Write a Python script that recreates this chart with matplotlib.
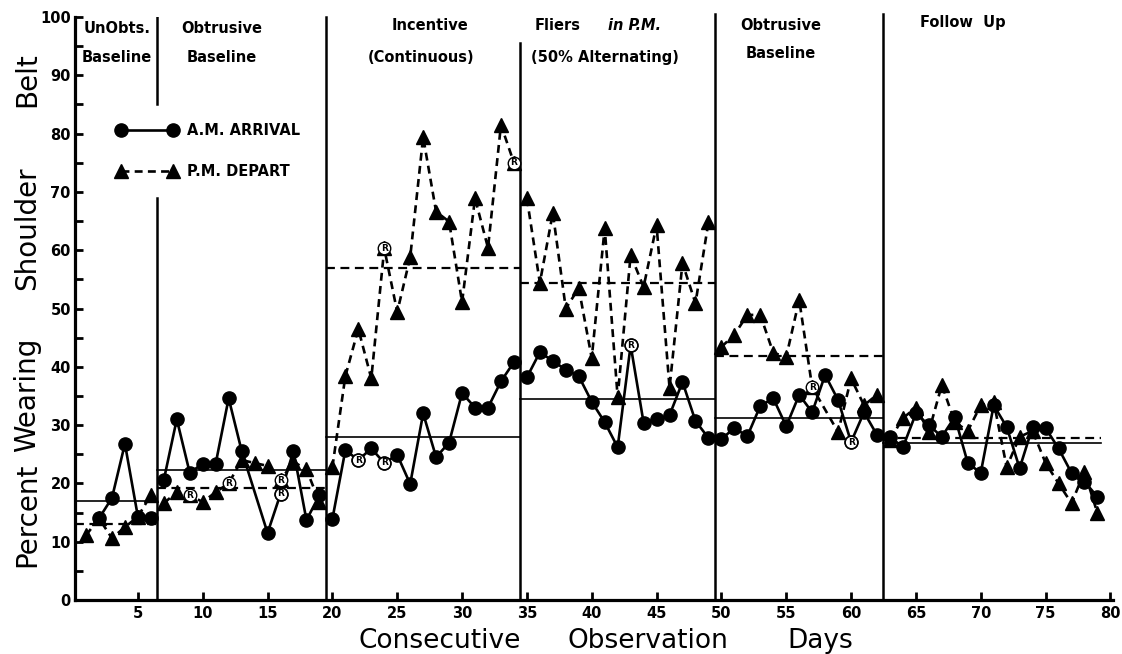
# Gráfico: uso do cinto de ombro (A.M. chegada x P.M. saída) por fase
import numpy as np
import matplotlib.pyplot as plt

# Dados (dias consecutivos de observação)
am_dias = [2, 3, 4, 5, 6,
           7, 8, 9, 10, 11, 12, 13, 15, 16, 17, 18, 19,
           20, 21, 22, 23, 24, 25, 26, 27, 28, 29, 30, 31, 32, 33, 34,
           35, 36, 37, 38, 39, 40, 41, 42, 43, 44, 45, 46, 47, 48, 49,
           50, 51, 52, 53, 54, 55, 56, 57, 58, 59, 60, 61, 62,
           63, 64, 65, 66, 67, 68, 69, 70, 71, 72, 73, 74, 75, 76, 77, 78, 79]
am_valores = [14, 17.5, 26.8, 14.3, 14,
              20.6, 31, 21.8, 23.4, 23.4, 34.6, 25.6, 11.5, 18.2, 25.6, 13.7, 18,
              13.9, 25.7, 24, 26, 23.5, 24.9, 19.9, 32, 24.5, 27, 35.5, 33, 33, 37.5, 40.8,
              38.2, 42.5, 41, 39.5, 38.4, 34, 30.5, 26.2, 43.7, 30.4, 31, 31.7, 37.4, 30.7, 27.8,
              27.6, 29.5, 28.1, 33.3, 34.6, 29.8, 35.2, 32.2, 38.6, 34.3, 27.1, 32.2, 28.3,
              28, 26.2, 32, 30, 28, 31.4, 23.5, 21.8, 33.4, 29.7, 22.6, 29.7, 29.5, 26, 21.8, 20.3, 17.7]

pm_dias = [1, 2, 3, 4, 5, 6,
           7, 8, 9, 10, 11, 12, 13, 14, 15, 16, 17, 18, 19,
           20, 21, 22, 23, 24, 25, 26, 27, 28, 29, 30, 31, 32, 33, 34,
           35, 36, 37, 38, 39, 40, 41, 42, 43, 44, 45, 46, 47, 48, 49,
           50, 51, 52, 53, 54, 55, 56, 57, 59, 60, 61, 62,
           63, 64, 65, 66, 67, 68, 69, 70, 71, 72, 73, 74, 75, 76, 77, 78, 79]
pm_valores = [11.1, 14, 10.6, 12.5, 14.3, 18,
              16.6, 18.5, 18, 16.8, 18.5, 20, 24, 23.5, 23, 20.5, 23.7, 22.4, 16.8,
              22.8, 38.4, 46.5, 38, 60.3, 49.4, 58.8, 79.4, 66.6, 64.9, 51.1, 68.9, 60.4, 81.5, 75,
              68.9, 54.4, 66.4, 50, 53.5, 41.5, 63.8, 34.8, 59.2, 53.7, 64.3, 36.4, 57.8, 50.9, 64.8,
              43.4, 45.5, 48.9, 48.9, 42.4, 41.7, 51.5, 36.5, 28.8, 38, 33.4, 35.2,
              27.5, 31.2, 33, 28.9, 36.9, 30.5, 29, 33.4, 34, 22.8, 28, 29, 23.5, 20, 16.6, 22, 14.9]

# dias marcados com "R"
am_r_dias = [16, 22, 24, 43, 60]
pm_r_dias = [9, 12, 16, 24, 34, 57]

# fases: limites e médias
fase_inicio = [0.15, 6.5, 19.5, 34.5, 49.5, 62.5]
fase_fim = [6.5, 19.5, 34.5, 49.5, 62.5, 79.3]
media_am = [17, 22.3, 28, 34.4, 31.2, 26.9]
media_pm = [13, 19.2, 57, 54.4, 41.8, 27.8]

# Linhas divisórias das fases (x, topo)
divisores = [19.5, 34.5, 49.5, 62.5]
divisores_topo = [100, 95.5, 100.5, 100.5]

fig = plt.figure(figsize=(11.22, 6.54), dpi=100)
ax = fig.add_axes([75/1122, 54/654, 1038/1122, 583/654])

am_dias = np.array(am_dias)
am_valores = np.array(am_valores)
pm_dias = np.array(pm_dias)
pm_valores = np.array(pm_valores)

# séries, sem ligar uma fase à outra
for i in range(len(fase_inicio)):
    m = (am_dias > fase_inicio[i]) & (am_dias < fase_fim[i] + 0.5)
    l_am, = ax.plot(am_dias[m], am_valores[m], color='k', lw=1.9, marker='o',
                    markersize=9.5, solid_capstyle='round', zorder=4)
    m = (pm_dias > fase_inicio[i]) & (pm_dias < fase_fim[i] + 0.5)
    l_pm, = ax.plot(pm_dias[m], pm_valores[m], color='k', lw=1.9, marker='^',
                    markersize=10, dashes=(3, 2), zorder=4)

    # médias da fase
    ax.plot([fase_inicio[i], fase_fim[i]], [media_am[i], media_am[i]], color='k', lw=1.2, zorder=3)
    ax.plot([fase_inicio[i], fase_fim[i]], [media_pm[i], media_pm[i]], color='k', lw=1.6,
            dashes=(4, 2.5), zorder=3)

# pontos "R"
for d in am_r_dias:
    v = am_valores[am_dias == d][0]
    ax.plot(d, v, 'o', markersize=9, markerfacecolor='white', markeredgecolor='k', mew=1, zorder=5)
    ax.text(d, v, 'R', fontsize=6.5, fontweight='bold', ha='center', va='center', zorder=6)
for d in pm_r_dias:
    v = pm_valores[pm_dias == d][0]
    ax.plot(d, v, 'o', markersize=9, markerfacecolor='white', markeredgecolor='k', mew=1, zorder=5)
    ax.text(d, v, 'R', fontsize=6.5, fontweight='bold', ha='center', va='center', zorder=6)

# divisórias das fases
ax.plot([6.5, 6.5], [85, 100], color='k', lw=1.8)
ax.plot([6.5, 6.5], [0, 69], color='k', lw=1.8)
for x, topo in zip(divisores, divisores_topo):
    ax.plot([x, x], [0, topo], color='k', lw=1.8, clip_on=False)

# títulos das fases
fonte = dict(fontsize=10.5, fontweight='bold', ha='center', va='center')
ax.text(3.4, 98.1, 'UnObts.', **fonte)
ax.text(3.4, 93.1, 'Baseline', **fonte)
ax.text(11.5, 98.1, 'Obtrusive', **fonte)
ax.text(11.5, 93.1, 'Baseline', **fonte)
ax.text(27.5, 98.6, 'Incentive', **fonte)
ax.text(37.4, 98.6, 'Fliers', **fonte)
ax.text(43.3, 98.6, 'in P.M.', fontsize=10.5, fontweight='bold', fontstyle='italic',
        ha='center', va='center')
ax.text(26.8, 93.1, '(Continuous)', **fonte)
ax.text(41, 93.1, '(50% Alternating)', **fonte)
ax.text(54.6, 98.6, 'Obtrusive', **fonte)
ax.text(54.6, 93.7, 'Baseline', **fonte)
ax.text(68.6, 99, 'Follow  Up', **fonte)

# legenda
l_am.set_label('A.M. ARRIVAL')
l_pm.set_label('P.M. DEPART')
ax.legend(handles=[l_am, l_pm], loc='upper left', bbox_to_anchor=(0.04, 0.818), frameon=False,
          handlelength=4.2, numpoints=2, labelspacing=1.75, handletextpad=0.6,
          borderpad=0, borderaxespad=0, prop={'weight': 'bold', 'size': 10.5})

# eixos
ax.set_xlim(0.15, 80.2)
ax.set_ylim(0, 100)
ax.spines['top'].set_visible(False)
ax.spines['right'].set_visible(False)
ax.spines['left'].set_linewidth(2.3)
ax.spines['bottom'].set_linewidth(2.3)
ax.set_xticks(range(5, 81, 5))
ax.set_yticks(range(0, 101, 10))
ax.set_yticks(range(5, 100, 10), minor=True)
ax.tick_params(axis='both', which='both', direction='in', width=2, length=6)
ax.tick_params(axis='x', labelsize=10.5, pad=4)
ax.tick_params(axis='y', labelsize=10.5, pad=3)
for t in ax.get_xticklabels() + ax.get_yticklabels():
    t.set_fontweight('bold')

# rótulos dos eixos
for texto, y in [('Percent', 515), ('Wearing', 395), ('Shoulder', 228), ('Belt', 80)]:
    fig.text(27/1122, 1 - y/654, texto, rotation=90, fontsize=20, ha='center', va='center')
for texto, x in [('Consecutive', 440), ('Observation', 648), ('Days', 820)]:
    fig.text(x/1122, 1 - 641/654, texto, fontsize=19, ha='center', va='center')

plt.savefig('out.png', dpi=100)
